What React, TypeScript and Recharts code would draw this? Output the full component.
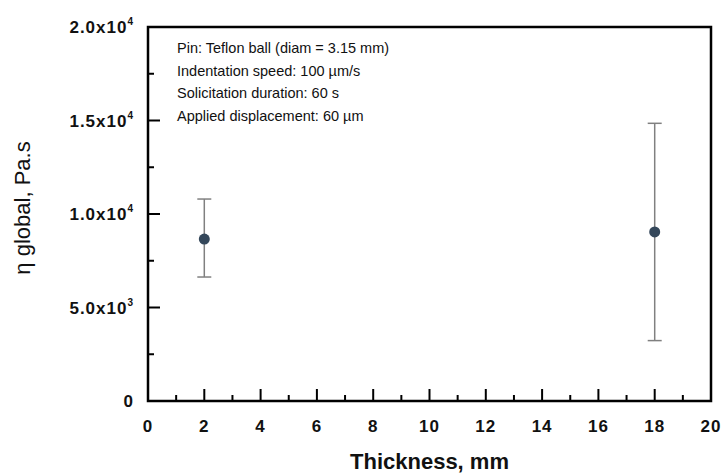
import React from "react";
import {
  ScatterChart,
  Scatter,
  XAxis,
  YAxis,
  ErrorBar,
  ReferenceArea,
} from "recharts";

// measured points: thickness (mm), global viscosity (Pa.s), [lower, upper] error
const thickness = [2, 18];
const viscosity = [8660, 9040];
const errLow = [2030, 5810];
const errHigh = [2140, 5810];

const xTicks = [0, 1, 2, 3, 4, 5, 6, 7, 8, 9, 10, 11, 12, 13, 14, 15, 16, 17, 18, 19, 20];
const yTicks = [0, 2500, 5000, 7500, 10000, 12500, 15000, 17500, 20000];
const yMantissa: Record<number, string> = {
  0: "0",
  5000: "5.0x10",
  10000: "1.0x10",
  15000: "1.5x10",
  20000: "2.0x10",
};
const yExponent: Record<number, string> = { 5000: "3", 10000: "4", 15000: "4", 20000: "4" };

const notes = [
  "Pin: Teflon ball (diam = 3.15 mm)",
  "Indentation speed: 100 µm/s",
  "Solicitation duration: 60 s",
  "Applied displacement: 60 µm",
];

const data = thickness.map((t, i) => ({
  t,
  eta: viscosity[i],
  err: [errLow[i], errHigh[i]],
}));

const FONT = '"Liberation Sans", Arial, Helvetica, sans-serif';

function XTick({ x, y, payload }: any) {
  const v = payload.value;
  const major = v % 2 === 0;
  return (
    <g>
      <line x1={x} y1={y} x2={x} y2={y - (major ? 12 : 6)} stroke="#000" strokeWidth={2} />
      {major && (
        <text
          x={x}
          y={y + 31}
          textAnchor="middle"
          fontFamily={FONT}
          fontWeight="bold"
          fontSize={17}
          letterSpacing={1}
          fill="#111"
        >
          {v}
        </text>
      )}
    </g>
  );
}

function YTick({ x, y, payload }: any) {
  const v = payload.value;
  const major = v % 5000 === 0;
  const exp = yExponent[v];
  return (
    <g>
      <line x1={x} y1={y} x2={x + (major ? 12 : 6)} y2={y} stroke="#000" strokeWidth={2} />
      {major && (
        <text
          x={x - 14}
          y={y + 6}
          textAnchor="end"
          fontFamily={FONT}
          fontWeight="bold"
          fontSize={17}
          letterSpacing={1}
          fill="#111"
        >
          {yMantissa[v]}
          {exp && (
            <tspan dy={-8} fontSize={10}>
              {exp}
            </tspan>
          )}
        </text>
      )}
    </g>
  );
}

function Dot({ cx, cy }: any) {
  return <circle cx={cx} cy={cy} r={5.5} fill="#34475a" />;
}

// plot frame plus the test-condition notes, placed from the area's viewBox
function FrameAndNotes({ viewBox }: any) {
  const { x, y, width, height } = viewBox;
  return (
    <g>
      <path
        d={`M${x},${y}H${x + width}V${y + height}H${x}Z`}
        fill="none"
        stroke="#000"
        strokeWidth={2.5}
      />
      <text fontFamily={FONT} fontSize={14.5} fill="#111">
        {notes.map((n, i) => (
          <tspan key={i} x={x + 29} y={y + 26 + i * 22.5}>
            {n}
          </tspan>
        ))}
      </text>
    </g>
  );
}

function YTitle({ viewBox }: any) {
  const cy = viewBox.y + viewBox.height / 2 - 6;
  return (
    <text
      x={30}
      y={cy}
      transform={`rotate(-90 30 ${cy})`}
      textAnchor="middle"
      fontFamily={FONT}
      fontSize={22}
      fill="#111"
    >
      η global, Pa.s
    </text>
  );
}

export default function App() {
  return (
    <div style={{ position: "absolute", left: 0, top: 0, width: 724, height: 474, background: "#fff" }}>
      <ScatterChart width={724} height={474} margin={{ top: 27, right: 13, bottom: 0, left: 0 }}>
        <XAxis
          type="number"
          dataKey="t"
          domain={[0, 20]}
          ticks={xTicks}
          interval={0}
          height={73}
          tickSize={0}
          tickMargin={0}
          tickLine={false}
          tick={<XTick />}
          stroke="#000"
          strokeWidth={2}
          label={{
            value: "Thickness, mm",
            position: "insideBottom",
            offset: 5,
            fontFamily: FONT,
            fontWeight: "bold",
            fontSize: 22,
            fill: "#111",
          }}
        />
        <YAxis
          type="number"
          dataKey="eta"
          domain={[0, 20000]}
          ticks={yTicks}
          interval={0}
          width={148}
          tickSize={0}
          tickMargin={0}
          tickLine={false}
          tick={<YTick />}
          stroke="#000"
          strokeWidth={2}
          label={<YTitle />}
        />
        <ReferenceArea
          x1={0}
          x2={20}
          y1={0}
          y2={20000}
          ifOverflow="visible"
          fill="none"
          fillOpacity={0}
          strokeOpacity={0}
          label={<FrameAndNotes />}
        />
        <Scatter data={data} shape={<Dot />} isAnimationActive={false}>
          <ErrorBar dataKey="err" direction="y" width={7} stroke="#808080" strokeWidth={1.5} />
        </Scatter>
      </ScatterChart>
    </div>
  );
}
